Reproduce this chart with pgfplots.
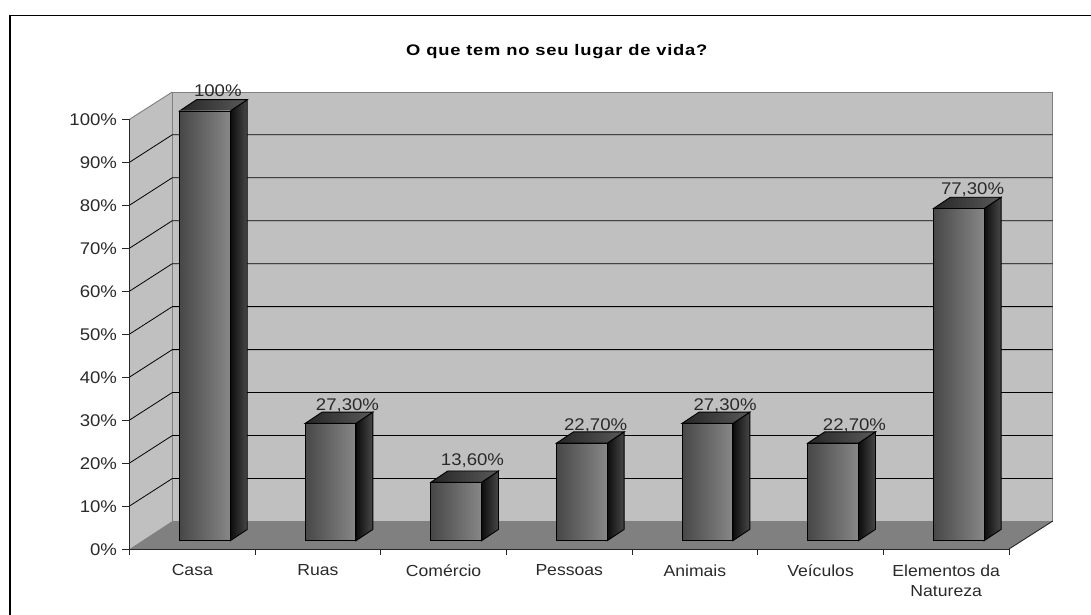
\documentclass[border=0pt]{standalone}
\usepackage{pgfplots}
\pgfplotsset{compat=1.18}
\usepackage{fontspec}
\setmainfont[FakeStretch=1.1]{Liberation Sans}
\newfontfamily\titlefont[FakeStretch=1.2,LetterSpace=5,BoldFont={Liberation Sans Bold}]{Liberation Sans Bold}
\definecolor{wallc}{HTML}{C0C0C0}
\definecolor{floorc}{HTML}{808080}
\definecolor{txt}{HTML}{2A2A2A}
\newcommand{\faces}[2]{%
  \pgfmathsetmacro{\xa}{#1-0.102}\pgfmathsetmacro{\xb}{#1+0.302}%
  \pgfmathsetmacro{\xc}{#1+0.437}\pgfmathsetmacro{\xd}{#1+0.033}%
  \pgfmathsetmacro{\yf}{#2+1.93}\pgfmathsetmacro{\yg}{#2+4.56}%
  \addplot[draw=black,line width=0.9pt,left color=black!95!white,right color=black!72!white]
    coordinates {(\xb,1.93)(\xc,4.56)(\xc,\yg)(\xb,\yf)} -- cycle;
  \addplot[draw=black,line width=0.9pt,left color=black!85!white,right color=black!65!white]
    coordinates {(\xa,\yf)(\xb,\yf)(\xc,\yg)(\xd,\yg)} -- cycle;
}
\pgfplotsset{frontbar/.style={ybar, bar width=50.7pt, bar shift=12.6pt, yshift=8.3pt, draw=black, line width=0.9pt,
  left color=black!72!white, right color=black!47!white}}
\begin{document}
\begin{tikzpicture}
\path[use as bounding box] (-129.5pt,-66pt) rectangle (961.5pt,549pt);
\draw[black,line width=1.6pt] (-119.5pt,-70pt) -- (-119.5pt,533.5pt) -- (965pt,533.5pt);
\begin{axis}[
  scale only axis, width=879.5pt, height=429.7pt,
  xmin=-0.5, xmax=6.5, ymin=0, ymax=100,
  clip=false, axis on top,
  axis x line=bottom, axis y line=left,
  axis line style={-, draw=black!85, line width=0.9pt},
  xtick={0,1,2,3,4,5,6},
  xticklabels={Casa,Ruas,Com\'ercio,Pessoas,Animais,Ve\'iculos,{Elementos da\\Natureza}},
  major x tick style={draw=none},
  minor xtick={-0.5,0.5,1.5,2.5,3.5,4.5,5.5,6.5},
  minor tick length=6pt,
  minor x tick style={draw=black!85,line width=0.9pt},
  xticklabel style={font=\fontsize{16}{20}\selectfont, text=txt, align=center, anchor=north, yshift=-5pt, text depth=0pt},
  ytick={0,10,20,30,40,50,60,70,80,90,100},
  yticklabel={\pgfmathprintnumber{\tick}\%},
  yticklabel style={font=\fontsize{16.9}{20}\selectfont, text=txt, /pgf/number format/assume math mode=true, xshift=-2pt, yshift=-0.7pt},
  major y tick style={draw=black!85,line width=0.9pt},
  tick align=outside, major tick length=7pt,
  title={\titlefont O que tem no seu lugar de vida?},
  title style={at={(rel axis cs:0.4858,1.144)},anchor=center,yshift=0pt,font=\fontsize{15.3}{17}\selectfont,text=black},
]
% side wall
\addplot[fill=wallc,draw=none] coordinates {(-0.5,0)(-0.1595,6.5)(-0.1595,106.35)(-0.5,100)} -- cycle;
% back wall
\addplot[fill=wallc,draw=floorc,line width=0.9pt] coordinates {(-0.1595,6.5)(6.848,6.5)(6.848,106.35)(-0.1595,106.35)} -- cycle;
\addplot[draw=floorc,line width=0.9pt] coordinates {(-0.5,100)(-0.1595,106.35)};
% floor
\addplot[fill=floorc,draw=none] coordinates {(-0.5,0)(6.5,0)(6.848,6.5)(-0.1595,6.5)} -- cycle;
\addplot[draw=black!85,line width=0.9pt] coordinates {(6.5,0)(6.848,6.5)};
% grid lines
\addplot[black,line width=0.8pt] coordinates {(-0.5,10)(-0.1595,16.4)(6.848,16.4)};
\addplot[black,line width=0.8pt] coordinates {(-0.5,20)(-0.1595,26.4)(6.848,26.4)};
\addplot[black,line width=0.8pt] coordinates {(-0.5,30)(-0.1595,36.4)(6.848,36.4)};
\addplot[black,line width=0.8pt] coordinates {(-0.5,40)(-0.1595,46.4)(6.848,46.4)};
\addplot[black,line width=0.8pt] coordinates {(-0.5,50)(-0.1595,56.4)(6.848,56.4)};
\addplot[black,line width=0.8pt] coordinates {(-0.5,60)(-0.1595,66.4)(6.848,66.4)};
\addplot[black,line width=0.8pt] coordinates {(-0.5,70)(-0.1595,76.4)(6.848,76.4)};
\addplot[black,line width=0.8pt] coordinates {(-0.5,80)(-0.1595,86.4)(6.848,86.4)};
\addplot[black,line width=0.8pt] coordinates {(-0.5,90)(-0.1595,96.4)(6.848,96.4)};
% bars
\faces{0}{100}
\addplot[frontbar] coordinates {(0,100)};
\faces{1}{27.3}
\addplot[frontbar] coordinates {(1,27.3)};
\faces{2}{13.6}
\addplot[frontbar] coordinates {(2,13.6)};
\faces{3}{22.7}
\addplot[frontbar] coordinates {(3,22.7)};
\faces{4}{27.3}
\addplot[frontbar] coordinates {(4,27.3)};
\faces{5}{22.7}
\addplot[frontbar] coordinates {(5,22.7)};
\faces{6}{77.3}
\addplot[frontbar] coordinates {(6,77.3)};
% value labels
\addplot[only marks, mark=none, point meta=explicit symbolic, nodes near coords,
  nodes near coords style={anchor=center, font=\fontsize{16.9}{20}\selectfont, text=txt, inner sep=0pt, yshift=-1pt}]
  coordinates {(0.203,106.9)[100\%] (1.235,33.7)[27,30\%] (2.23,20.7)[13,60\%] (3.21,28.9)[22,70\%]
               (4.24,33.7)[27,30\%] (5.27,28.9)[22,70\%] (6.21,83.8)[77,30\%]};
\end{axis}
\end{tikzpicture}
\end{document}
